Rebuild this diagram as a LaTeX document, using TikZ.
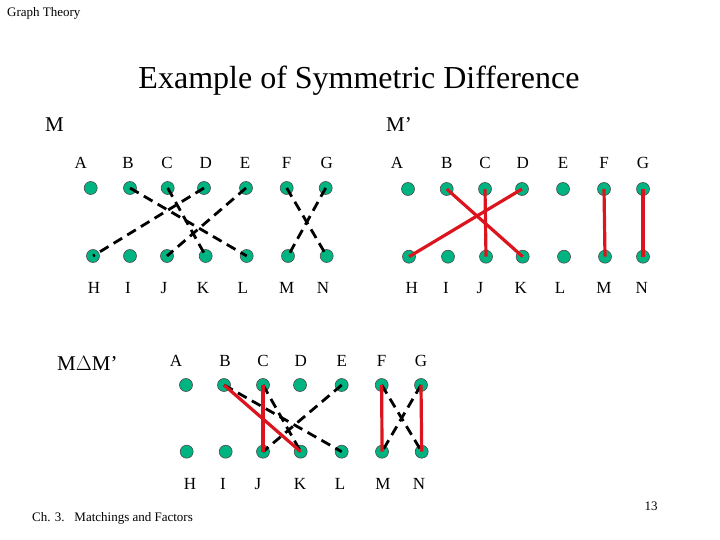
\documentclass[tikz,border=0pt]{standalone}
\usepackage{fontspec}
\setmainfont{Liberation Serif}
\begin{document}
\begin{tikzpicture}[x=1pt,y=-1pt,
  vtx/.style={circle,draw=black!70,line width=0.6pt,fill={rgb,255:red,0;green,180;blue,130},inner sep=0pt,minimum size=13pt},
  lab/.style={font=\fontsize{17}{17}\selectfont,inner sep=0pt,anchor=base},
  medge/.style={black,line width=2.8pt,dash pattern=on 10pt off 6pt},
  redge/.style={draw={rgb,255:red,220;green,20;blue,30},line width=3.2pt},
  small/.style={font=\fontsize{13}{13}\selectfont,inner sep=0pt,anchor=base west}]
\useasboundingbox (0,0) rectangle (720,540);
% header / footer
\node[small] (hdr) at (7,17) {Graph Theory};
\node[small] (ftr) at (32,521) {Ch. 3.\ \ \ Matchings and Factors};
\node[small,anchor=base] (pg) at (651,510) {13};
\node[font=\fontsize{32}{32}\selectfont,inner sep=0pt,anchor=base] (title) at (359,89) {Example of Symmetric Difference};
\node[lab,font=\fontsize{21}{21}\selectfont,anchor=base west] (tM) at (45,132) {M};
\node[lab,font=\fontsize{21}{21}\selectfont,anchor=base west] (tMp) at (386,132) {M’};
\node[lab,font=\fontsize{21}{21}\selectfont,anchor=base west] (tMD) at (57,370) {M$\Delta$M’};
% ---------- M ----------
\foreach \n/\x/\lx in {A/90.7/80.7,B/130/128,C/167.7/167,D/204/205.7,E/246/245,F/286.7/286.7,G/325.7/326.7}{
  \node[lab] (m\n l) at (\lx,169) {\n};
  \node[vtx] (m\n) at (\x,188) {};}
\foreach \n/\x/\lx in {H/93/94,I/130/128,J/167/164,K/205.7/203,L/246.7/242.7,M/288/286.7,N/326.7/323}{
  \node[lab] (m\n l) at (\lx,293) {\n};
  \node[vtx] (m\n) at (\x,256) {};}
\foreach \a/\b in {B/L,C/K,D/H,E/J,F/N,G/M}
  \draw[medge] (m\a.center) -- (m\b.center);
% ---------- M' ----------
\foreach \n/\x/\lx in {A/408/397,B/446.7/446.7,C/485/485,D/522/522.7,E/563/563,F/604/604,G/643/643}{
  \node[lab] (p\n l) at (\lx,169) {\n};
  \node[vtx] (p\n) at (\x,189) {};}
\foreach \n/\x/\lx in {H/409/411.7,I/448/446,J/486/480,K/522.7/520.7,L/564/560,M/605/604,N/643/641.7}{
  \node[lab] (p\n l) at (\lx,293) {\n};
  \node[vtx] (p\n) at (\x,256.7) {};}
\foreach \a/\b in {B/K,C/J,D/H,F/M,G/N}
  \draw[redge] (p\a.center) -- (p\b.center);
% ---------- M Delta M' ----------
\foreach \n/\x/\lx in {A/186/176,B/224/225,C/263/263,D/300/300.7,E/341.7/341.7,F/381.7/381.7,G/421/421}{
  \node[lab] (d\n l) at (\lx,366) {\n};
  \node[vtx] (d\n) at (\x,385) {};}
\foreach \n/\x/\lx in {H/186.7/190,I/225.7/223,J/263/258,K/300.7/300,L/341.7/340,M/382/383,N/421.7/419}{
  \node[lab] (d\n l) at (\lx,489) {\n};
  \node[vtx] (d\n) at (\x,451.7) {};}
\foreach \a/\b in {B/L,C/K,E/J,F/N,G/M}
  \draw[medge] (d\a.center) -- (d\b.center);
\foreach \a/\b in {B/K,C/J,F/M,G/N}
  \draw[redge] (d\a.center) -- (d\b.center);
\end{tikzpicture}
\end{document}
